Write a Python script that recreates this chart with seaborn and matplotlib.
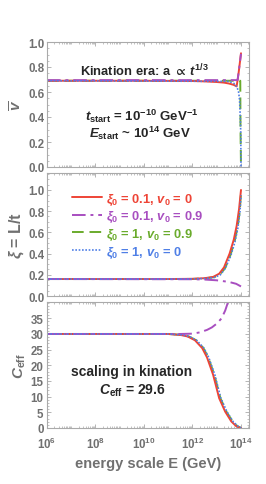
import numpy as np
import pandas as pd
import matplotlib
matplotlib.use("Agg")
import matplotlib.pyplot as plt
from matplotlib.ticker import AutoMinorLocator, LogLocator, NullFormatter, FixedLocator
import seaborn as sns

# ---- data (x = log10 of energy scale in GeV) ----
labels = [r"$\xi_0$ = 0.1, $v_0$ = 0", r"$\xi_0$ = 0.1, $v_0$ = 0.9",
          r"$\xi_0$ = 1, $v_0$ = 0.9", r"$\xi_0$ = 1, $v_0$ = 0"]

# top panel: v-bar
v_red_x = [6, 10, 12, 12.5, 13, 13.3, 13.5, 13.7, 13.82, 13.9, 14.0]
v_red_y = [0.69, 0.69, 0.688, 0.685, 0.68, 0.675, 0.668, 0.657, 0.645, 0.75, 0.91]
v_pur_x = [6, 13.86, 14.0]
v_pur_y = [0.695, 0.695, 0.905]
v_grn_x = [6, 13.97, 13.98, 14.0]
v_grn_y = [0.69, 0.69, 0.3, 0.0]
v_blu_x = [6, 13.5, 13.75, 13.85, 13.9, 13.94, 13.97, 13.99, 14.0]
v_blu_y = [0.69, 0.685, 0.665, 0.63, 0.6, 0.54, 0.4, 0.28, 0.0]

# middle panel: xi = L/t
xi_red_x = [6, 11, 12, 12.5, 12.85, 13.1, 13.3, 13.53, 13.7, 13.82, 13.92, 14.0]
xi_red_y = [0.16, 0.16, 0.162, 0.168, 0.18, 0.21, 0.27, 0.40, 0.53, 0.66, 0.82, 1.0]
xi_pur_x = [6, 12, 12.5, 13.0, 13.5, 13.8, 14.0]
xi_pur_y = [0.16, 0.158, 0.155, 0.148, 0.133, 0.115, 0.09]
xi_grn_x = [6, 11, 12, 12.5, 12.9, 13.15, 13.35, 13.57, 13.74, 13.86, 13.95, 14.0]
xi_grn_y = [0.16, 0.16, 0.161, 0.166, 0.178, 0.207, 0.265, 0.39, 0.52, 0.65, 0.8, 0.97]
xi_blu_x = [6, 11, 12, 12.5, 12.9, 13.15, 13.35, 13.58, 13.75, 13.87, 13.96, 14.0]
xi_blu_y = [0.16, 0.16, 0.161, 0.165, 0.175, 0.2, 0.26, 0.38, 0.51, 0.64, 0.8, 0.95]

# bottom panel: C_eff
c_red_x = [6, 11, 11.5, 11.8, 12.1, 12.4, 12.6, 12.85, 13.1, 13.35, 13.6, 13.8, 13.95, 14.0]
c_red_y = [30, 30, 29.7, 29.2, 28, 25.5, 22.5, 17, 9.5, 5.2, 2.1, 0.6, 0.1, 0]
c_pur_x = [6, 11.5, 12.0, 12.3, 12.6, 12.8, 13.0, 13.2, 13.35, 13.5]
c_pur_y = [30, 30, 30.1, 30.5, 31.3, 32.1, 33.3, 35.0, 37.5, 41]
c_grn_x = [6, 11, 11.55, 11.85, 12.15, 12.45, 12.65, 12.9, 13.15, 13.4, 13.65, 13.85, 13.97, 14.0]
c_grn_y = [30, 30, 29.7, 29.2, 28, 25.5, 22.5, 17, 9.5, 5.2, 2.1, 0.6, 0.1, 0]
c_blu_x = [6, 11, 11.57, 11.87, 12.17, 12.47, 12.67, 12.92, 13.17, 13.42, 13.67, 13.87, 13.98, 14.0]
c_blu_y = [30, 30, 29.7, 29.2, 28, 25.5, 22.5, 17, 9.5, 5.2, 2.1, 0.6, 0.1, 0]

colors = ["#EE4436", "#A84EC0", "#6AAB2C", "#4F7FE6"]
styles = ["-", (0, (7, 2.5, 1.5, 2.5)), (0, (6, 3)), (0, (1, 1))]
widths = [1.4, 1.4, 1.4, 1.2]
draw_order = [2, 0, 1, 3]

gray = "#707070"
sns.set_style("ticks")
plt.rcParams["font.family"] = ["Liberation Sans", "DejaVu Sans"]
plt.rcParams["font.weight"] = "bold"
plt.rcParams["axes.labelweight"] = "bold"
plt.rcParams["mathtext.fontset"] = "custom"
plt.rcParams["mathtext.rm"] = "Liberation Sans:bold"
plt.rcParams["mathtext.it"] = "Liberation Sans:bold:italic"
plt.rcParams["mathtext.bf"] = "Liberation Sans:bold"
plt.rcParams["mathtext.sf"] = "Liberation Sans:bold"
plt.rcParams["mathtext.fallback"] = "stixsans"

fig = plt.figure(figsize=(2.66, 4.85), dpi=100)
L, W = 47 / 266, (249 - 47) / 266
ax1 = fig.add_axes([L, 1 - 168 / 485, W, 125 / 485])
ax2 = fig.add_axes([L, 1 - 297 / 485, W, 123 / 485])
ax3 = fig.add_axes([L, 1 - 429 / 485, W, 126 / 485])

panels = [
    (ax1, [(v_red_x, v_red_y), (v_pur_x, v_pur_y), (v_grn_x, v_grn_y), (v_blu_x, v_blu_y)]),
    (ax2, [(xi_red_x, xi_red_y), (xi_pur_x, xi_pur_y), (xi_grn_x, xi_grn_y), (xi_blu_x, xi_blu_y)]),
    (ax3, [(c_red_x, c_red_y), (c_pur_x, c_pur_y), (c_grn_x, c_grn_y), (c_blu_x, c_blu_y)]),
]

for ax, series in panels:
    for i in draw_order:
        xs, ys = series[i]
        sns.lineplot(x=10.0 ** np.array(xs), y=ys, ax=ax, color=colors[i],
                     linestyle=styles[i], lw=widths[i], label=labels[i],
                     sort=False, estimator=None)
    ax.set_xscale("log")
    ax.set_xlim(1e6, 10 ** 14.33)
    ax.xaxis.set_major_locator(FixedLocator([1e6, 1e8, 1e10, 1e12, 1e14]))
    ax.xaxis.set_minor_locator(LogLocator(base=10, subs=np.arange(1, 10), numticks=30))
    ax.xaxis.set_minor_formatter(NullFormatter())
    ax.tick_params(which="both", direction="in", top=True, right=True,
                   color="#AAAAAA", labelcolor=gray, labelsize=8.3, pad=1.5)
    ax.tick_params(which="major", length=3, width=0.6)
    ax.tick_params(which="minor", length=1.5, width=0.5)
    for s in ax.spines.values():
        s.set_color("#AAAAAA")
        s.set_linewidth(0.8)
    ax.set_xlabel("")
    if ax is not ax2:
        ax.get_legend().remove()

ax1.set_ylim(0, 1.0)
ax1.set_yticks(np.arange(0, 1.01, 0.2))
ax1.set_yticklabels([f"{t:.1f}" for t in np.arange(0, 1.01, 0.2)])
ax1.yaxis.set_minor_locator(AutoMinorLocator(4))
ax1.tick_params(axis="x", labelbottom=False)

ax2.set_ylim(0, 1.16)
ax2.set_yticks(np.arange(0, 1.01, 0.2))
ax2.set_yticklabels([f"{t:.1f}" for t in np.arange(0, 1.01, 0.2)])
ax2.yaxis.set_minor_locator(AutoMinorLocator(4))
ax2.tick_params(axis="x", labelbottom=False)

ax3.set_ylim(0, 40.2)
ax3.set_yticks(np.arange(0, 36, 5))
ax3.yaxis.set_minor_locator(AutoMinorLocator(5))
ax3.tick_params(axis="x", pad=5.5)
ax3.tick_params(axis="y", pad=2.5)

ax1.set_ylabel(r"$\overline{v}$", color=gray, fontsize=11, labelpad=3)
ax2.set_ylabel(r"$\xi$ = L/t", color=gray, fontsize=11.5, labelpad=2)
ax3.set_ylabel(r"$C_{\mathrm{eff}}$", color=gray, fontsize=11, labelpad=2)
ax3.set_xlabel("energy scale E (GeV)", color=gray, fontsize=10.5, labelpad=4)

# legend in middle panel
handles, labs = ax2.get_legend_handles_labels()
order = [labs.index(l) for l in labels]
leg = ax2.legend([handles[k] for k in order], [labs[k] for k in order],
                 loc="upper left", bbox_to_anchor=(0.1, 0.89), frameon=False,
                 fontsize=9.3, handlelength=2.3, handletextpad=0.3,
                 labelspacing=0.2, borderaxespad=0, labelcolor="linecolor")

# annotations
ax1.text(0.48, 0.78, r"Kination era: a $\propto\,t^{1/3}$", transform=ax1.transAxes,
         ha="center", va="center", fontsize=9.3)
ax1.text(0.47, 0.41, r"$t_{\mathrm{start}}$ = 10$^{-10}$ GeV$^{-1}$", transform=ax1.transAxes,
         ha="center", va="center", fontsize=9.5)
ax1.text(0.46, 0.28, r"$E_{\mathrm{start}}$ ~ 10$^{14}$ GeV", transform=ax1.transAxes,
         ha="center", va="center", fontsize=9.5)
ax3.text(0.42, 0.455, "scaling in kination", transform=ax3.transAxes,
         ha="center", va="center", fontsize=10)
ax3.text(0.42, 0.30, r"$C_{\mathrm{eff}}$ = 29.6", transform=ax3.transAxes,
         ha="center", va="center", fontsize=10)

fig.savefig("out.png", dpi=100)
